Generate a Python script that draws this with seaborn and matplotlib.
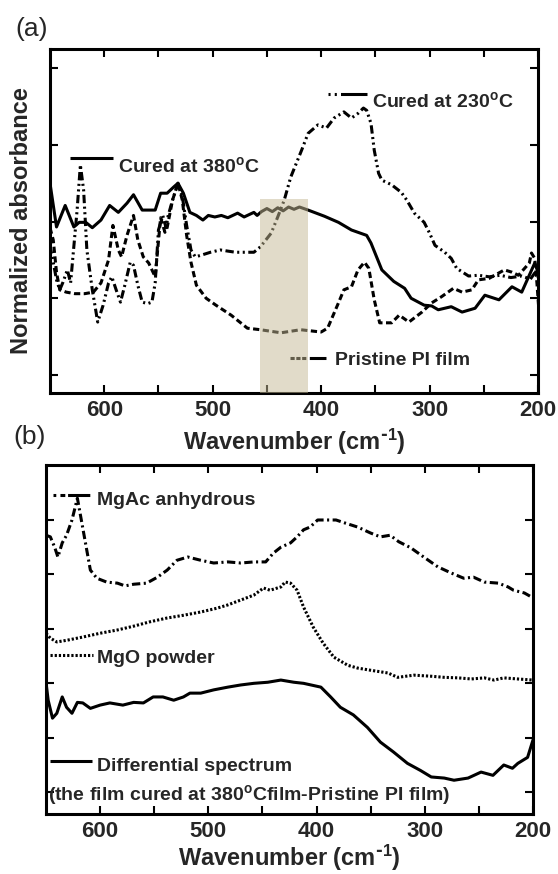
import matplotlib
matplotlib.use("Agg")
import matplotlib.pyplot as plt
from matplotlib.patches import Rectangle
import pandas as pd
import seaborn as sns

# ---------------- (a) far-IR spectra of the PI films ----------------
wn_380 = [650, 644, 636, 628, 623, 617, 611, 603, 595, 587,
          579, 573, 565, 553, 548, 542, 536, 532, 527, 521,
          515, 509, 504, 498, 492, 486, 477, 471, 462, 459,
          455, 450, 445, 440, 435, 430, 425, 420, 412, 397,
          384, 372, 358, 354, 344, 333, 323, 317, 305, 298,
          292, 280, 270, 258, 249, 236, 224, 215, 203, 199]
abs_380 = [2.50, 1.93, 2.21, 1.93, 1.99, 1.99, 1.92, 2.02, 2.21, 2.12,
           2.24, 2.35, 2.15, 2.15, 2.37, 2.37, 2.45, 2.50, 2.37, 2.12,
           2.08, 2.02, 2.08, 2.06, 2.08, 2.05, 2.11, 2.06, 2.12, 2.08,
           2.13, 2.17, 2.13, 2.18, 2.14, 2.19, 2.16, 2.19, 2.15, 2.07,
           1.99, 1.89, 1.82, 1.72, 1.37, 1.22, 1.13, 1.00, 0.91, 0.90,
           0.85, 0.89, 0.82, 0.87, 1.04, 0.98, 1.15, 1.08, 1.46, 1.30]

wn_230 = [650, 647, 644, 641, 638, 634, 631, 629, 625, 622,
          619, 616, 611, 606, 601, 596, 593, 589, 585, 581,
          576, 573, 569, 565, 560, 556, 553, 550, 546, 543,
          541, 537, 532, 528, 524, 520, 516, 511, 502, 493,
          479, 462, 456, 446, 440, 434, 428, 418, 412, 403,
          395, 388, 379, 372, 366, 361, 358, 354, 351, 347,
          344, 335, 326, 321, 314, 305, 300, 295, 286, 280,
          275, 264, 255, 245, 235, 225, 215, 207, 203, 200]
abs_230 = [1.69, 1.47, 1.24, 1.11, 1.21, 1.37, 1.20, 1.52, 2.15, 2.74,
           2.41, 1.63, 1.11, 0.69, 0.91, 1.20, 1.28, 1.11, 0.95, 1.17,
           1.47, 1.43, 1.17, 0.95, 0.93, 0.95, 1.20, 1.89, 2.08, 1.92,
           2.08, 2.28, 2.50, 2.33, 1.95, 1.63, 1.54, 1.56, 1.60, 1.63,
           1.60, 1.60, 1.67, 1.85, 2.06, 2.28, 2.58, 2.93, 3.15, 3.26,
           3.22, 3.35, 3.43, 3.35, 3.41, 3.48, 3.45, 3.28, 2.93, 2.63,
           2.54, 2.48, 2.38, 2.28, 2.11, 1.99, 1.85, 1.69, 1.60, 1.52,
           1.39, 1.29, 1.30, 1.28, 1.30, 1.27, 1.29, 1.25, 1.33, 1.28]

wn_pi = [650, 647, 644, 641, 635, 627, 618, 610, 603, 596,
         592, 587, 584, 579, 573, 569, 564, 559, 553, 548,
         544, 542, 537, 532, 528, 524, 520, 515, 506, 497,
         483, 468, 456, 437, 419, 400, 394, 384, 379, 372,
         366, 360, 356, 351, 346, 335, 328, 319, 307, 298,
         289, 278, 270, 261, 255, 245, 231, 224, 218, 208,
         206, 203, 201, 199]
abs_pi = [1.92, 1.76, 1.34, 1.11, 1.08, 1.06, 1.06, 1.08, 1.20, 1.50,
          1.95, 1.63, 1.54, 1.82, 2.08, 1.76, 1.54, 1.46, 1.28, 2.05,
          1.86, 1.92, 2.28, 2.50, 2.28, 1.82, 1.47, 1.17, 1.00, 0.91,
          0.78, 0.61, 0.59, 0.55, 0.59, 0.56, 0.61, 0.94, 1.11, 1.15,
          1.37, 1.47, 1.39, 0.98, 0.68, 0.68, 0.78, 0.69, 0.82, 0.94,
          1.02, 1.13, 1.08, 1.11, 1.24, 1.26, 1.37, 1.34, 1.30, 1.46,
          1.59, 1.52, 1.20, 0.81]

# highlighted Mg-O band region
band_lo, band_hi, band_top = 412, 456, 2.29

# ---------------- (b) reference spectra ----------------
wn_mgac = [650, 646, 642, 639, 635, 631, 626, 621, 619, 614,
           609, 603, 594, 584, 577, 569, 557, 547, 538, 529,
           519, 507, 495, 482, 470, 458, 447, 440, 433, 424,
           418, 412, 406, 399, 390, 382, 373, 362, 350, 341,
           332, 324, 313, 301, 288, 276, 264, 255, 245, 232,
           223, 218, 208, 200]
abs_mgac = [4.72, 4.69, 4.50, 4.32, 4.58, 4.72, 5.00, 5.40, 5.18, 4.63,
            4.08, 3.93, 3.86, 3.84, 3.79, 3.82, 3.84, 3.95, 4.08, 4.26,
            4.32, 4.26, 4.21, 4.23, 4.21, 4.23, 4.23, 4.39, 4.50, 4.58,
            4.69, 4.82, 4.87, 5.00, 5.00, 5.00, 4.94, 4.87, 4.76, 4.69,
            4.72, 4.60, 4.49, 4.32, 4.14, 4.03, 3.93, 3.95, 3.86, 3.84,
            3.77, 3.71, 3.66, 3.57]

wn_mgo = [650, 646, 640, 631, 616, 600, 584, 569, 554, 538,
          523, 507, 492, 482, 470, 458, 449, 443, 433, 429,
          424, 418, 412, 403, 394, 384, 371, 362, 350, 334,
          325, 310, 294, 282, 269, 257, 245, 236, 227, 214,
          200]
abs_mgo = [2.92, 2.83, 2.76, 2.79, 2.85, 2.92, 2.98, 3.05, 3.13, 3.20,
           3.25, 3.31, 3.38, 3.44, 3.53, 3.62, 3.75, 3.71, 3.77, 3.86,
           3.84, 3.71, 3.40, 3.03, 2.74, 2.48, 2.33, 2.28, 2.24, 2.19,
           2.11, 2.15, 2.13, 2.11, 2.10, 2.08, 2.10, 2.06, 2.10, 2.08,
           2.06]

wn_diff = [650, 648, 644, 640, 635, 631, 626, 621, 616, 609,
           600, 591, 579, 569, 560, 551, 542, 532, 523, 517,
           507, 495, 482, 470, 458, 445, 433, 421, 412, 396,
           387, 378, 366, 353, 341, 329, 316, 304, 294, 282,
           273, 260, 248, 237, 227, 219, 214, 205, 200]
abs_diff = [2.02, 1.69, 1.36, 1.45, 1.75, 1.56, 1.45, 1.65, 1.64, 1.54,
            1.60, 1.64, 1.60, 1.65, 1.64, 1.75, 1.75, 1.69, 1.75, 1.82,
            1.82, 1.88, 1.93, 1.97, 2.00, 2.02, 2.06, 2.02, 2.00, 1.93,
            1.75, 1.56, 1.42, 1.19, 0.92, 0.74, 0.53, 0.40, 0.28, 0.26,
            0.22, 0.26, 0.37, 0.31, 0.50, 0.44, 0.53, 0.64, 0.96]

x_major = [600, 500, 400, 300, 200]
x_minor = [550, 450, 350, 250]
yticks_a = [0, 1, 2, 3, 4]
yticks_b = [0, 1, 2, 3, 4, 5]

# ---------------- style ----------------
sns.set_theme(style="ticks")
plt.rcParams["font.family"] = ["Liberation Sans", "DejaVu Sans"]
plt.rcParams["font.weight"] = "bold"
plt.rcParams["mathtext.default"] = "regular"
plt.rcParams["lines.scale_dashes"] = False
plt.rcParams["axes.linewidth"] = 2.2

LW = 2.2
SOLID = "-"
DASH_DOT_DOT = (0, (6, 2.5, 1.5, 2.5, 1.5, 2.5))
DASH_DOT = (0, (6, 2.5, 1.5, 2.5))
SHORT_DASH = (0, (4.5, 2.5))
DOTTED = (0, (1.6, 1.4))

XLABEL = "Wavenumber (cm$^{\\text{-}1}$)"

fig = plt.figure(figsize=(5.58, 8.74), dpi=100)
ax_a = fig.add_axes([50 / 558, 1 - 393 / 874, 488 / 558, 344 / 874])
ax_b = fig.add_axes([46 / 558, 1 - 814 / 874, 487 / 558, 349 / 874])


def draw(ax, wn, ab, ls):
    df = pd.DataFrame({"wn": wn, "ab": ab})
    sns.lineplot(data=df, x="wn", y="ab", ax=ax, color="black", lw=LW,
                 linestyle=ls, estimator=None, sort=False)


def style_axes(ax, yticks, ylim):
    ax.set_xlim(650, 200)
    ax.set_ylim(*ylim)
    ax.set_xticks(x_major)
    ax.set_xticks(x_minor, minor=True)
    ax.set_yticks(yticks)
    ax.tick_params(which="both", direction="in", length=6, width=1.5,
                   top=True, right=True, labelleft=False, color="black")
    ax.tick_params(axis="x", labelsize=16, pad=5)
    for lab in ax.get_xticklabels():
        lab.set_fontweight("bold")
    for sp in ax.spines.values():
        sp.set_visible(True)
        sp.set_color("black")
        sp.set_linewidth(2.2)
    ax.set_xlabel(XLABEL, fontsize=17, fontweight="bold", va="baseline")
    ax.set_ylabel("")


def key(ax, x0, x1, y, ls, label, tx, ty):
    ax.plot([x0, x1], [y, y], transform=ax.transAxes, color="black", lw=LW,
            linestyle=ls, solid_capstyle="butt")
    ax.text(tx, ty, label, transform=ax.transAxes, fontsize=14,
            fontweight="bold", va="baseline", ha="left")


# ---------------- panel (a) ----------------
draw(ax_a, wn_380, abs_380, SOLID)
draw(ax_a, wn_230, abs_230, DASH_DOT_DOT)
draw(ax_a, wn_pi, abs_pi, SHORT_DASH)
ylim_a = (-0.235, 4.25)
style_axes(ax_a, yticks_a, ylim_a)
ax_a.add_patch(Rectangle((band_lo, ylim_a[0]), band_hi - band_lo,
                         band_top - ylim_a[0], facecolor="#c4b994",
                         alpha=0.5, edgecolor="none", zorder=5))
ax_a.xaxis.set_label_coords(0.5, -0.166)
ax_a.set_ylabel("Normalized absorbance", fontsize=17, fontweight="bold")
ax_a.yaxis.set_label_coords(-0.034, 0.5)

key(ax_a, 0.041, 0.129, 0.683, SOLID, "Cured at 380$^{o}$C", 0.139, 0.642)
key(ax_a, 0.570, 0.650, 0.869, (0, (1.5, 3, 1.5, 3, 22, 60)),
    "Cured at 230$^{o}$C", 0.660, 0.831)
key(ax_a, 0.492, 0.568, 0.102, (0, (3, 1.2, 3, 1.2, 3, 2.5, 12, 60)),
    "Pristine PI film", 0.584, 0.081)

# ---------------- panel (b) ----------------
draw(ax_b, wn_mgac, abs_mgac, DASH_DOT)
draw(ax_b, wn_mgo, abs_mgo, DOTTED)
draw(ax_b, wn_diff, abs_diff, SOLID)
style_axes(ax_b, yticks_b, (-0.40, 6.01))
ax_b.xaxis.set_label_coords(0.5, -0.150)

key(ax_b, 0.014, 0.094, 0.914, (0, (2, 3, 3.5, 2, 16, 60)),
    "MgAc anhydrous", 0.105, 0.885)
key(ax_b, 0.008, 0.097, 0.456, DOTTED, "MgO powder", 0.105, 0.433)
key(ax_b, 0.008, 0.094, 0.152, SOLID, "Differential spectrum", 0.105, 0.123)
ax_b.text(0.005, 0.040,
          "(the film cured at 380$^{o}$Cfilm-Pristine PI film)",
          transform=ax_b.transAxes, fontsize=14, fontweight="bold",
          va="baseline", ha="left")

# panel letters
fig.text(15 / 558, 1 - 29 / 874, "(a)", fontsize=19, fontweight="normal",
         va="center", ha="left")
fig.text(13 / 558, 1 - 437 / 874, "(b)", fontsize=19, fontweight="normal",
         va="center", ha="left")

fig.savefig("out.png", dpi=100, facecolor="white")
